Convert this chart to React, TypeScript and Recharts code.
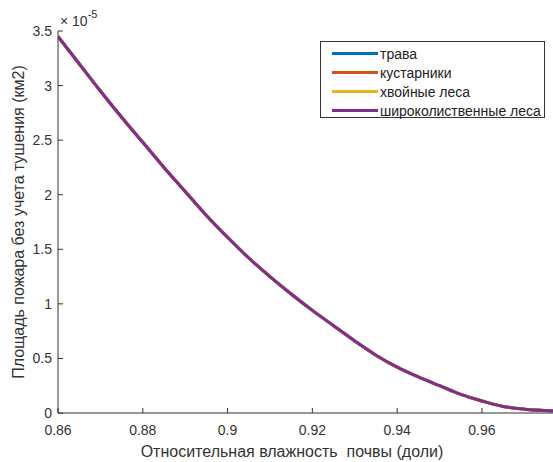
import { LineChart, Line, XAxis, YAxis, Legend } from "recharts"

// Soil relative moisture (fraction) and fire area without suppression (units of 1e-5 km2)
const moisture = [
  0.86, 0.865, 0.87, 0.875, 0.88, 0.885, 0.89, 0.895, 0.9, 0.905, 0.91, 0.915,
  0.92, 0.925, 0.93, 0.935, 0.94, 0.945, 0.95, 0.955, 0.96, 0.965, 0.97, 0.977,
]
// all four curves coincide on the plot, only the last (purple) one is visible
const grass = [
  3.45, 3.2, 2.95, 2.71, 2.48, 2.25, 2.03, 1.81, 1.61, 1.42, 1.25, 1.09,
  0.94, 0.8, 0.66, 0.53, 0.42, 0.33, 0.25, 0.17, 0.11, 0.06, 0.035, 0.02,
]
const shrubs = [...grass]
const conifer = [...grass]
const broadleaf = [...grass]

const xTicks = [0.86, 0.88, 0.9, 0.92, 0.94, 0.96]
const yTicks = [0, 0.5, 1, 1.5, 2, 2.5, 3, 3.5]

const series = [
  { key: "grass", name: "трава", color: "#0072BD", values: grass },
  { key: "shrubs", name: "кустарники", color: "#D95319", values: shrubs },
  { key: "conifer", name: "хвойные леса", color: "#EDB120", values: conifer },
  { key: "broadleaf", name: "широколиственные леса", color: "#7E2F8E", values: broadleaf },
]

const data = moisture.map((m, i) => {
  const row: Record<string, number> = { moisture: m }
  series.forEach((s) => (row[s.key] = s.values[i]))
  return row
})

const font = "'Liberation Sans', Arial, sans-serif"
const axisColor = "#333"
const textColor = "#333"

function BottomTick({ x, y, payload }: any) {
  return (
    <g>
      <line x1={x} y1={y} x2={x} y2={y - 5} stroke={axisColor} />
      <text x={x} y={y + 22} textAnchor="middle" fontSize={14} fontFamily={font} fill={textColor}>
        {String(payload.value)}
      </text>
    </g>
  )
}

function TopTick({ x, y }: any) {
  return <line x1={x} y1={y} x2={x} y2={y + 5} stroke={axisColor} />
}

function LeftTick({ x, y, payload }: any) {
  return (
    <g>
      <line x1={x} y1={y} x2={x + 5} y2={y} stroke={axisColor} />
      <text x={x - 6} y={y} dy="0.36em" textAnchor="end" fontSize={14} fontFamily={font} fill={textColor}>
        {String(payload.value)}
      </text>
    </g>
  )
}

function RightTick({ x, y }: any) {
  return <line x1={x} y1={y} x2={x - 5} y2={y} stroke={axisColor} />
}

function LegendBox() {
  return (
    <div
      style={{
        width: 225,
        height: 77,
        border: "1px solid #333",
        background: "#fff",
        boxSizing: "border-box",
        padding: "2px 0 0 11px",
        fontFamily: font,
        fontSize: 14,
        color: "#222",
      }}
    >
      {series.map((s) => (
        <div key={s.key} style={{ display: "flex", alignItems: "center", height: 19 }}>
          <span style={{ width: 46, height: 3, background: s.color, marginRight: 2 }} />
          <span>{s.name}</span>
        </div>
      ))}
    </div>
  )
}

export default function App() {
  return (
    <div
      style={{
        position: "fixed",
        left: 0,
        top: 0,
        width: 553,
        height: 462,
        overflow: "hidden",
        background: "#fff",
      }}
    >
      <LineChart width={560} height={462} data={data} margin={{ top: 31, right: 6, left: 0, bottom: 0 }}>
        <XAxis
          dataKey="moisture"
          type="number"
          domain={[0.86, 0.977]}
          ticks={xTicks}
          allowDataOverflow
          height={49}
          tickSize={0}
          tickMargin={0}
          tickLine={false}
          stroke={axisColor}
          tick={<BottomTick />}
          label={{
            content: () => (
              <text
                x={292}
                y={457}
                textAnchor="middle"
                fontSize={16}
                fontFamily={font}
                fill={textColor}
                style={{ whiteSpace: "pre" }}
              >
                Относительная влажность  почвы (доли)
              </text>
            ),
          }}
        />
        <XAxis
          xAxisId="top"
          orientation="top"
          type="number"
          domain={[0.86, 0.977]}
          ticks={xTicks}
          allowDataOverflow
          height={0}
          tickSize={0}
          tickMargin={0}
          tickLine={false}
          stroke={axisColor}
          tick={<TopTick />}
        />
        <YAxis
          type="number"
          domain={[0, 3.5]}
          ticks={yTicks}
          allowDataOverflow
          width={58}
          tickSize={0}
          tickMargin={0}
          tickLine={false}
          stroke={axisColor}
          tick={<LeftTick />}
          label={{
            content: () => (
              <g>
                <text
                  x={18}
                  y={222}
                  transform="rotate(-90, 18, 222)"
                  textAnchor="middle"
                  dy="0.35em"
                  fontSize={16}
                  fontFamily={font}
                  fill={textColor}
                >
                  Площадь пожара без учета тушения (км2)
                </text>
                <text x={60} y={26} fontSize={14} fontFamily={font} fill={textColor} style={{ whiteSpace: "pre" }}>
                  {"× 10"}
                  <tspan dy={-8} fontSize={11}>
                    -5
                  </tspan>
                </text>
              </g>
            ),
          }}
        />
        <YAxis
          yAxisId="right"
          orientation="right"
          type="number"
          domain={[0, 3.5]}
          ticks={yTicks}
          allowDataOverflow
          width={0}
          tickSize={0}
          tickMargin={0}
          tickLine={false}
          stroke={axisColor}
          tick={<RightTick />}
        />
        <Legend
          layout="horizontal"
          verticalAlign="middle"
          align="center"
          content={<LegendBox />}
          wrapperStyle={{ position: "absolute", left: 320, top: 41, width: 225, height: 77 }}
        />
        {series.map((s) => (
          <Line
            key={s.key}
            dataKey={s.key}
            name={s.name}
            type="monotone"
            stroke={s.color}
            strokeWidth={3}
            dot={false}
            isAnimationActive={false}
          />
        ))}
      </LineChart>
    </div>
  )
}
